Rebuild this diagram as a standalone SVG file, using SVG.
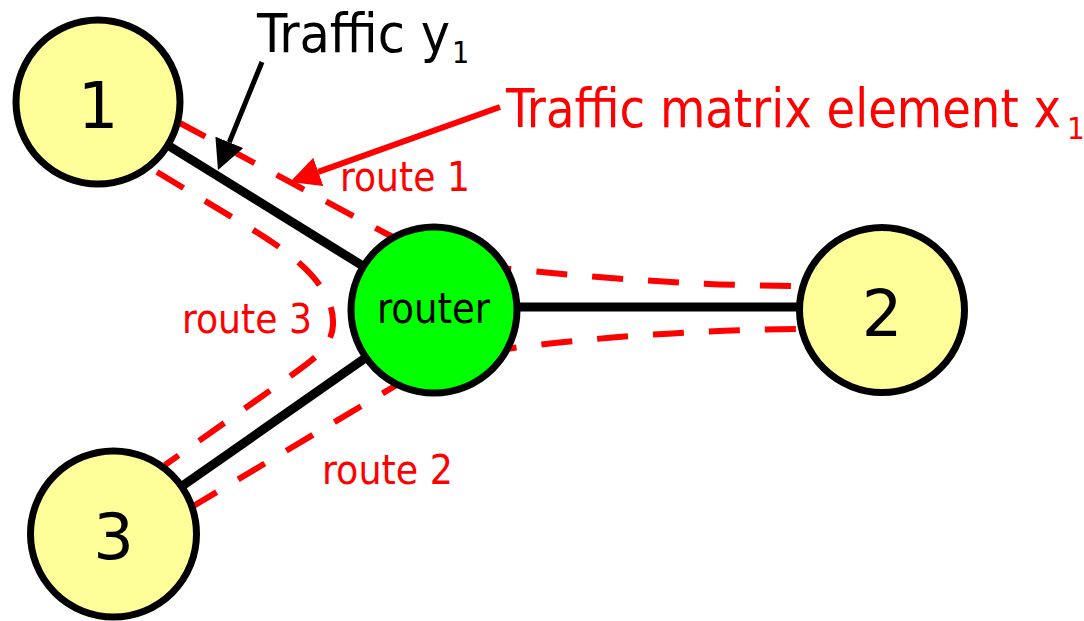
<svg xmlns="http://www.w3.org/2000/svg" width="1084" height="621" viewBox="0 0 1084 621">
  <style>
    .link { stroke: #000; stroke-width: 9; fill: none; }
    .route { stroke: #ff0000; stroke-width: 6; fill: none; stroke-dasharray: 31 25; }
    .host { fill: #ffff99; stroke: #000; stroke-width: 7; }
    .hub { fill: #00ff00; stroke: #000; stroke-width: 7; }
    .num { font-family: "DejaVu Sans", "Liberation Sans", sans-serif; font-size: 64px; fill: #000; text-anchor: middle; }
    .lbl { font-family: "DejaVu Sans Condensed", "DejaVu Sans", "Liberation Sans", sans-serif; }
    .red { fill: #ff0000; }
    .blk { fill: #000; }
  </style>
  <defs>
    <marker id="head-black" viewBox="0 0 30 30" refX="0" refY="15" markerWidth="30" markerHeight="30" markerUnits="userSpaceOnUse" orient="auto">
      <path d="M0,0 L30,15 L0,30 z" fill="#000"/>
    </marker>
    <marker id="head-red" viewBox="0 0 30 30" refX="0" refY="15" markerWidth="30" markerHeight="30" markerUnits="userSpaceOnUse" orient="auto">
      <path d="M0,0 L30,15 L0,30 z" fill="#ff0000"/>
    </marker>
  </defs>

  <!-- links and routes -->
  <g id="connectors">
    <line class="link" x1="98" y1="102" x2="434" y2="310"/>
    <line class="link" x1="113.5" y1="534" x2="434" y2="310"/>
    <line class="link" x1="434" y1="307" x2="882" y2="307"/>
    <!-- route 1: host 1 to host 2 -->
    <path class="route" d="M178,122 L385,233 Q440,262 520,270 Q680,286 805,286"/>
    <!-- route 2: host 3 to host 2 -->
    <path class="route" d="M190,508 L395,386 Q440,358 520,347 Q660,330 805,329"/>
    <!-- route 3: host 1 to host 3 -->
    <path class="route" d="M157,172 L250,228 C300,258 335,290 333,325 C332,350 305,365 285,380 L165,465"/>
  </g>

  <g id="node-1">
    <circle class="host" cx="98" cy="102" r="82"/>
    <text class="num" x="98" y="127.5">1</text>
  </g>
  <g id="node-2">
    <circle class="host" cx="882" cy="310" r="82.5"/>
    <text class="num" x="882" y="336">2</text>
  </g>
  <g id="node-3">
    <circle class="host" cx="113.5" cy="534" r="83"/>
    <text class="num" x="113.5" y="559">3</text>
  </g>
  <g id="router">
    <circle class="hub" cx="434" cy="310" r="83"/>
    <text class="lbl blk" x="377" y="323" font-size="42" textLength="113" lengthAdjust="spacingAndGlyphs">router</text>
  </g>

  <!-- annotations -->
  <g id="labels">
    <text class="lbl red" x="340" y="191" font-size="41" textLength="130" lengthAdjust="spacingAndGlyphs">route 1</text>
    <text class="lbl red" x="182" y="333" font-size="41" textLength="130" lengthAdjust="spacingAndGlyphs">route 3</text>
    <text class="lbl red" x="322" y="484" font-size="41" textLength="131" lengthAdjust="spacingAndGlyphs">route 2</text>

    <text class="lbl blk" x="257" y="51.5" font-size="53"><tspan textLength="193" lengthAdjust="spacingAndGlyphs">Traffic y</tspan><tspan x="452" dy="11.5" font-size="30">1</tspan></text>

    <text class="lbl red" x="506" y="127" font-size="53"><tspan textLength="555" lengthAdjust="spacingAndGlyphs">Traffic matrix element x</tspan><tspan x="1067" dy="12" font-size="31">1</tspan></text>
  </g>

  <g id="pointers">
    <line x1="262" y1="62" x2="229.3" y2="142.3" stroke="#000" stroke-width="5" marker-end="url(#head-black)"/>
    <line x1="500" y1="107" x2="318.3" y2="171.9" stroke="#ff0000" stroke-width="6" marker-end="url(#head-red)"/>
  </g>
</svg>
